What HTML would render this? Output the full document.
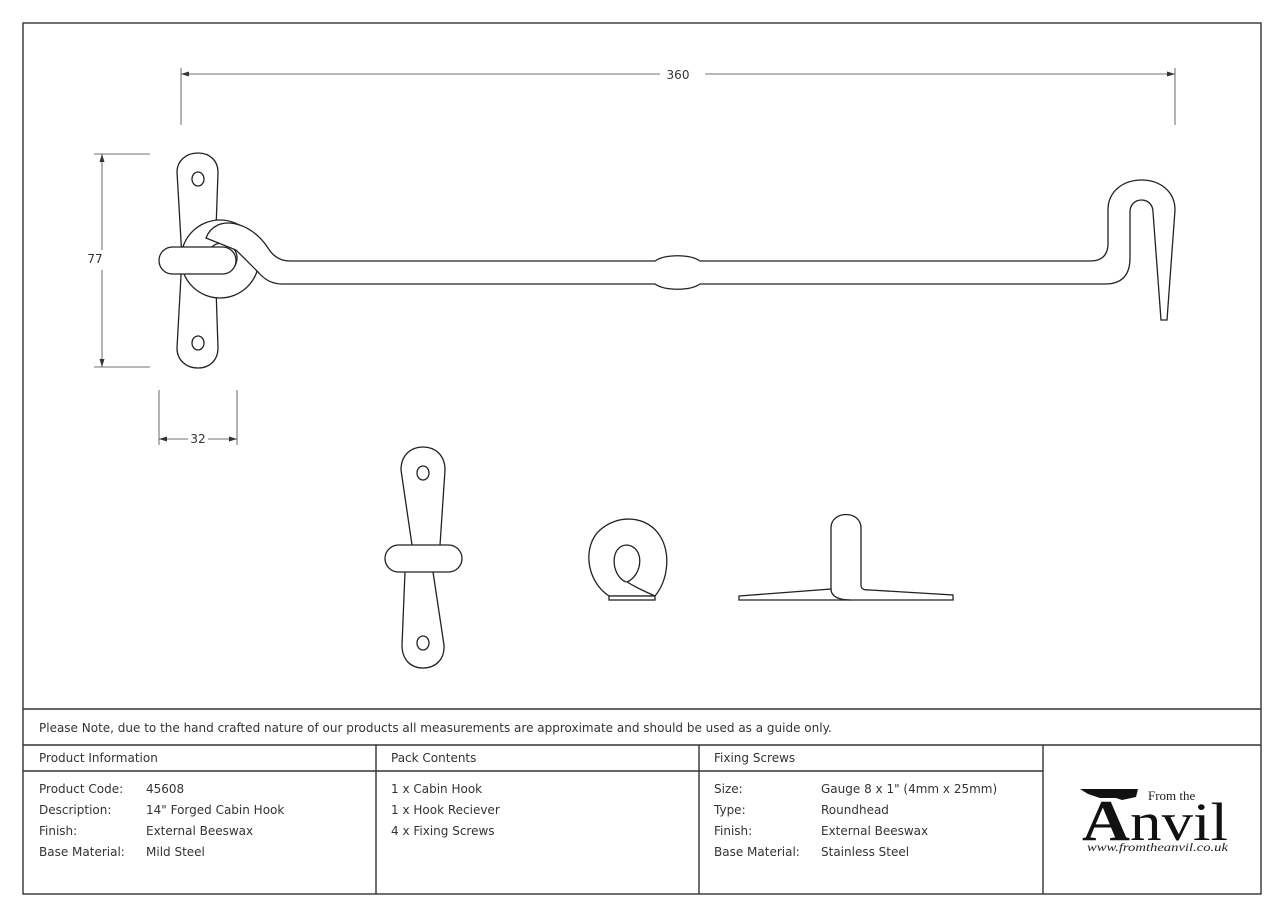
<!DOCTYPE html>
<html><head><style>
body{margin:0;background:#fff;width:1284px;height:918px;overflow:hidden}
svg{position:absolute;left:0;top:0}
text{font-family:"DejaVu Sans","Liberation Sans",sans-serif;fill:#333;font-size:12px}
</style></head><body>
<svg width="1284" height="918" viewBox="0 0 1284 918">
<g fill="none" stroke="#333" stroke-width="1.4">
<rect x="23" y="23" width="1238" height="871"/>
<line x1="23" y1="709" x2="1261" y2="709"/>
<line x1="23" y1="745" x2="1261" y2="745"/>
<line x1="23" y1="771" x2="1043" y2="771"/>
<line x1="376" y1="745" x2="376" y2="894"/>
<line x1="699" y1="745" x2="699" y2="894"/>
<line x1="1043" y1="745" x2="1043" y2="894"/>
</g>
<g stroke="#444" stroke-width="0.8" fill="none">
<line x1="181" y1="68" x2="181" y2="125"/><line x1="1175" y1="68" x2="1175" y2="125"/>
<line x1="181" y1="74" x2="660" y2="74"/><line x1="705" y1="74" x2="1175" y2="74"/>
<line x1="94" y1="154" x2="150" y2="154"/><line x1="94" y1="367" x2="150" y2="367"/>
<line x1="102" y1="154" x2="102" y2="250"/><line x1="102" y1="270" x2="102" y2="367"/>
<line x1="159" y1="390" x2="159" y2="445"/><line x1="237" y1="390" x2="237" y2="445"/>
<line x1="159" y1="439" x2="188" y2="439"/><line x1="208" y1="439" x2="237" y2="439"/>
</g>
<g fill="#333">
<path d="M181,74 l8,-2.5 v5z"/><path d="M1175,74 l-8,-2.5 v5z"/>
<path d="M102,154 l-2.5,8 h5z"/><path d="M102,367 l-2.5,-8 h5z"/>
<path d="M159,439 l8,-2.5 v5z"/><path d="M237,439 l-8,-2.5 v5z"/>
</g>
<text x="678" y="79" text-anchor="middle" font-size="11">360</text>
<text x="95" y="263" text-anchor="middle" font-size="11">77</text>
<text x="198" y="443" text-anchor="middle" font-size="11">32</text>
<g fill="#fff" stroke="#222" stroke-width="1.3">
<!-- main plate -->
<path d="M198,153 C186,153 177,161 177,172 L182,258 L177,348 C177,360 186,368 198,368 C210,368 218,360 218,348 L215,258 L218,172 C218,161 210,153 198,153Z"/>
<ellipse cx="198" cy="179" rx="6" ry="7"/><ellipse cx="198" cy="343" rx="6" ry="7"/>
<circle cx="220" cy="259" r="39"/>
<circle cx="222" cy="258" r="15"/>
<!-- rod -->
<path d="M206,238 C215,214 250,220 268,248 Q276,261 290,261 L655,261 C665,254 690,254 700,261 L1090,261 Q1107,261 1108,245 L1108,210 C1108,170 1175,170 1175,210 L1167,320 L1161,320 L1153,212 C1153,196 1130,196 1130,212 L1130,258 Q1130,284 1105,284 L700,284 C690,291 665,291 655,284 L282,284 Q268,284 258,272 L236,250Z"/>
<rect x="159" y="247" width="77" height="27" rx="13.5"/>
<!-- lower plate -->
<path d="M423,447 C411,447 401,455 401,470 L412,545 L405,572 L402,645 C402,660 411,668 423,668 C435,668 445,660 444,645 L433,572 L440,545 L445,470 C445,455 435,447 423,447Z"/>
<ellipse cx="423" cy="473" rx="6" ry="7"/><ellipse cx="423" cy="643" rx="6" ry="7"/>
<rect x="385" y="545" width="77" height="27" rx="13.5"/>
<!-- ring -->
<path d="M609,596 C585,580 583,545 600,530 C618,514 645,516 658,533 C672,552 668,580 655,596Z"/>
<path d="M626,582 C610,575 610,545 627,545 C645,547 643,575 627,582 C637,588 646,592 655,596" fill="none"/>
<rect x="609" y="596" width="46" height="4"/>
<!-- side view -->
<path d="M739,596 L831,589 L831,528 C831,510 861,510 861,528 L861,585 C861,590 865,590 870,590 L953,595 L953,600 L739,600Z"/>
<path d="M831,589 C831,597 840,600 850,600" fill="none"/>
</g>
<text x="39" y="732">Please Note, due to the hand crafted nature of our products all measurements are approximate and should be used as a guide only.</text>
<text x="39" y="762">Product Information</text>
<text x="391" y="762">Pack Contents</text>
<text x="714" y="762">Fixing Screws</text>
<g>
<text x="39" y="793">Product Code:</text><text x="146" y="793">45608</text>
<text x="39" y="814">Description:</text><text x="146" y="814">14" Forged Cabin Hook</text>
<text x="39" y="835">Finish:</text><text x="146" y="835">External Beeswax</text>
<text x="39" y="856">Base Material:</text><text x="146" y="856">Mild Steel</text>
<text x="391" y="793">1 x Cabin Hook</text>
<text x="391" y="814">1 x Hook Reciever</text>
<text x="391" y="835">4 x Fixing Screws</text>
<text x="714" y="793">Size:</text><text x="821" y="793">Gauge 8 x 1" (4mm x 25mm)</text>
<text x="714" y="814">Type:</text><text x="821" y="814">Roundhead</text>
<text x="714" y="835">Finish:</text><text x="821" y="835">External Beeswax</text>
<text x="714" y="856">Base Material:</text><text x="821" y="856">Stainless Steel</text>
</g>
<!-- logo -->
<path d="M1080,789 L1138,789 L1136,797 L1122,800 L1116,798 L1100,798 L1088,794Z" fill="#111"/>
<text x="1082" y="840" style="font-family:'Liberation Serif',serif;font-size:58px;font-weight:bold;fill:#111" textLength="48" lengthAdjust="spacingAndGlyphs">A</text>
<text x="1130" y="840" style="font-family:'Liberation Serif',serif;font-size:54px;fill:#111" textLength="98" lengthAdjust="spacingAndGlyphs">nvil</text>
<text x="1148" y="800" style="font-family:'Liberation Serif',serif;font-size:13px;fill:#222">From the</text>
<text x="1087" y="851" style="font-family:'Liberation Serif',serif;font-style:italic;font-size:12px;fill:#222" textLength="141" lengthAdjust="spacingAndGlyphs">www.fromtheanvil.co.uk</text>
</svg>
</body></html>
